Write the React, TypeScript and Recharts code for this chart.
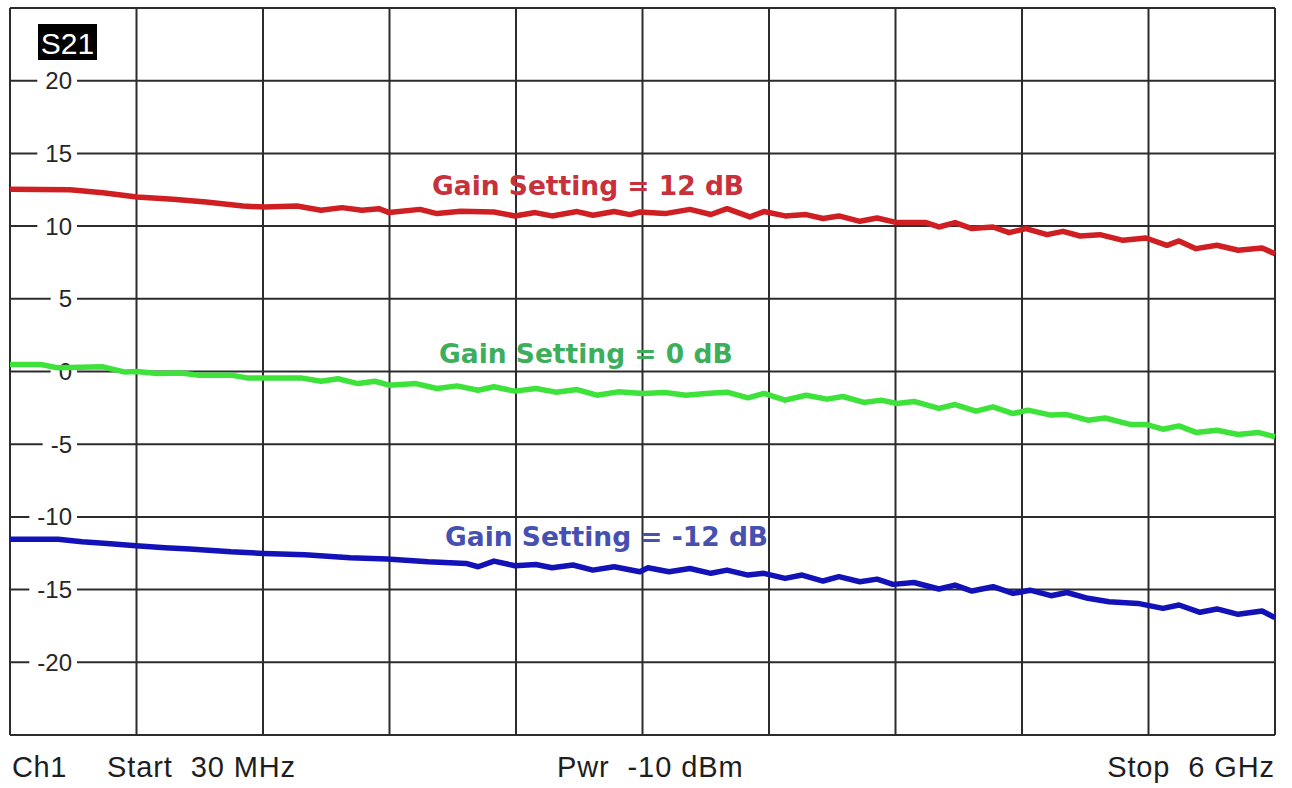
import React from "react";
import { LineChart, Line, XAxis, YAxis, CartesianGrid } from "recharts";

// Sweep span (MHz) and the ten grid divisions across it
const X_GRID_MHZ = [30, 627, 1224, 1821, 2418, 3015, 3612, 4209, 4806, 5403, 6000];
// S21 scale, 5 dB per division
const Y_GRID_DB = [-25, -20, -15, -10, -5, 0, 5, 10, 15, 20, 25];

// Trace: gain setting = 12 dB
const RED_FREQ = [30, 313, 469, 629, 799, 955, 1130, 1229, 1384, 1498, 1597, 1691, 1771, 1819, 1965, 2045, 2158, 2314, 2413, 2508, 2588, 2706, 2781, 2881, 2956, 3003, 3121, 3239, 3338, 3414, 3522, 3588, 3688, 3787, 3867, 3942, 4041, 4122, 4216, 4353, 4414, 4490, 4570, 4669, 4745, 4825, 4924, 5000, 5080, 5174, 5283, 5391, 5490, 5547, 5627, 5726, 5826, 5939, 6000];
const RED_DB = [12.53, 12.5, 12.3, 12.0, 11.84, 11.66, 11.38, 11.31, 11.38, 11.09, 11.27, 11.09, 11.2, 10.93, 11.15, 10.86, 11.02, 10.97, 10.7, 10.93, 10.7, 11.0, 10.75, 11.0, 10.79, 10.97, 10.86, 11.15, 10.8, 11.2, 10.63, 11.0, 10.7, 10.79, 10.52, 10.7, 10.33, 10.56, 10.24, 10.24, 9.94, 10.24, 9.83, 9.94, 9.55, 9.83, 9.41, 9.64, 9.32, 9.41, 9.02, 9.18, 8.68, 8.98, 8.45, 8.68, 8.34, 8.5, 8.1];

// Trace: gain setting = 0 dB
const GREEN_FREQ = [30, 176, 257, 469, 568, 629, 724, 837, 917, 1073, 1148, 1229, 1403, 1498, 1578, 1672, 1753, 1819, 1946, 2045, 2140, 2239, 2314, 2413, 2512, 2607, 2706, 2800, 2899, 3017, 3121, 3220, 3315, 3414, 3513, 3588, 3688, 3787, 3886, 3961, 4060, 4141, 4216, 4296, 4414, 4490, 4589, 4669, 4764, 4834, 4943, 5018, 5117, 5198, 5316, 5391, 5471, 5547, 5627, 5726, 5826, 5920, 6000];
const GREEN_DB = [0.48, 0.48, 0.25, 0.32, -0.03, 0.0, -0.14, -0.1, -0.25, -0.25, -0.44, -0.44, -0.44, -0.67, -0.5, -0.83, -0.67, -0.94, -0.83, -1.17, -0.99, -1.29, -1.05, -1.35, -1.17, -1.42, -1.24, -1.63, -1.4, -1.51, -1.44, -1.63, -1.51, -1.42, -1.81, -1.51, -1.97, -1.63, -1.9, -1.72, -2.13, -1.97, -2.2, -2.06, -2.54, -2.27, -2.73, -2.43, -2.89, -2.66, -3.0, -2.96, -3.35, -3.2, -3.64, -3.64, -3.97, -3.74, -4.19, -4.04, -4.33, -4.19, -4.49];

// Trace: gain setting = -12 dB
const BLUE_FREQ = [30, 257, 370, 488, 625, 762, 879, 1073, 1229, 1422, 1635, 1809, 2003, 2182, 2239, 2314, 2413, 2512, 2588, 2687, 2781, 2881, 3003, 3041, 3140, 3239, 3338, 3414, 3513, 3588, 3688, 3768, 3867, 3942, 4041, 4122, 4197, 4296, 4414, 4490, 4570, 4669, 4764, 4844, 4943, 5018, 5117, 5217, 5353, 5471, 5547, 5646, 5726, 5826, 5939, 6000];
const BLUE_DB = [-11.53, -11.53, -11.71, -11.83, -11.99, -12.12, -12.2, -12.4, -12.51, -12.6, -12.81, -12.9, -13.09, -13.2, -13.43, -13.04, -13.36, -13.27, -13.5, -13.31, -13.66, -13.43, -13.77, -13.5, -13.77, -13.55, -13.88, -13.66, -14.0, -13.88, -14.23, -14.0, -14.41, -14.11, -14.46, -14.28, -14.64, -14.51, -14.96, -14.69, -15.1, -14.8, -15.26, -15.04, -15.42, -15.2, -15.6, -15.83, -15.95, -16.29, -16.06, -16.56, -16.33, -16.7, -16.47, -16.93];

const TRACE_LABELS = ["Gain Setting = 12 dB", "Gain Setting = 0 dB", "Gain Setting = -12 dB"];
const FOOTER = ["Ch1", "Start  30 MHz", "Pwr  -10 dBm", "Stop  6 GHz"];

const toSeries = (freq: number[], db: number[]) => freq.map((f, i) => ({ f, v: db[i] }));
const redData = toSeries(RED_FREQ, RED_DB);
const greenData = toSeries(GREEN_FREQ, GREEN_DB);
const blueData = toSeries(BLUE_FREQ, BLUE_DB);

const W = 1292;
const H = 788;
const PLOT_LEFT = 10;
const PLOT_TOP = 8;
const PLOT_RIGHT = 1275;
const PLOT_BOTTOM = 735;
const AXIS_W = 1;
const SANS = "'Liberation Sans', Arial, sans-serif";
const GRID = "#2c2c2c";
const X_DOMAIN: [number, number] = [30, 6000];
const Y_DOMAIN: [number, number] = [-25, 25];

// keep the doubled gaps of the instrument footer visible in SVG text
const keepGaps = (s: string) => s.replace(/  /g, "\u00a0 ");

// frequency ticks only feed the vertical graticule lines
const NoTick = () => <g />;

// Scale numbers printed inside the left edge of the graticule, on a white patch
const YTick = (props: any) => {
  const { y, payload } = props;
  const v = payload.value as number;
  if (v <= -25 || v >= 25) return <g />;
  const label = String(v);
  const fs = 24;
  let w = 0;
  for (const ch of label) w += ch === "-" ? 0.333 * fs : 0.556 * fs;
  const right = PLOT_LEFT + 62;
  return (
    <g>
      <rect x={right - w - 8} y={y - 11} width={w + 13} height={22} fill="#ffffff" />
      <text
        x={right}
        y={y}
        textAnchor="end"
        dominantBaseline="central"
        fontFamily={SANS}
        fontSize={fs}
        fill="#262626"
      >
        {label}
      </text>
    </g>
  );
};

const layer: React.CSSProperties = { position: "absolute", left: 0, top: 0 };

export default function App() {
  return (
    <div style={{ position: "absolute", left: 0, top: 0, width: W, height: H, background: "#ffffff" }}>
      {/* graticule and scale numbers */}
      <div style={layer}>
        <LineChart
          width={W}
          height={H}
          margin={{ top: PLOT_TOP, left: PLOT_LEFT - AXIS_W, right: W - PLOT_RIGHT, bottom: H - PLOT_BOTTOM - AXIS_W }}
        >
          <CartesianGrid stroke={GRID} strokeWidth={2} />
          <XAxis
            type="number"
            dataKey="f"
            domain={X_DOMAIN}
            ticks={X_GRID_MHZ}
            interval={0}
            height={AXIS_W}
            tick={NoTick}
            tickLine={false}
            axisLine={false}
          />
          <YAxis
            type="number"
            domain={Y_DOMAIN}
            ticks={Y_GRID_DB}
            width={AXIS_W}
            tickLine={false}
            axisLine={false}
            tick={YTick}
            interval={0}
          />
          <Line data={redData} dataKey="v" stroke="none" dot={false} isAnimationActive={false} />
        </LineChart>
      </div>

      {/* measured traces, drawn over the graticule */}
      <div style={layer}>
        <LineChart
          width={W}
          height={H}
          margin={{ top: PLOT_TOP, left: PLOT_LEFT, right: W - PLOT_RIGHT, bottom: H - PLOT_BOTTOM }}
        >
          <XAxis type="number" dataKey="f" domain={X_DOMAIN} hide />
          <YAxis type="number" domain={Y_DOMAIN} hide />
          <Line data={redData} dataKey="v" type="linear" stroke="#cf1f22" strokeWidth={5.5} dot={false} isAnimationActive={false} strokeLinejoin="round" />
          <Line data={greenData} dataKey="v" type="linear" stroke="#3de23a" strokeWidth={5.5} dot={false} isAnimationActive={false} strokeLinejoin="round" />
          <Line data={blueData} dataKey="v" type="linear" stroke="#1212b8" strokeWidth={5.5} dot={false} isAnimationActive={false} strokeLinejoin="round" />
        </LineChart>
      </div>

      <svg width={W} height={H} style={{ ...layer, pointerEvents: "none" }}>
        <rect x={38} y={24} width={59} height={36} fill="#000000" />
        <text x={67.5} y={43} textAnchor="middle" dominantBaseline="central" fontFamily={SANS} fontSize={30} fill="#ffffff">
          S21
        </text>

        <g fontFamily="'DejaVu Sans', Verdana, sans-serif" fontWeight="bold" fontSize={26.5}>
          <text x={432} y={195} fill="#c8303b">{TRACE_LABELS[0]}</text>
          <text x={439} y={363} fill="#3dae5c">{TRACE_LABELS[1]}</text>
          <text x={445} y={546} fill="#4650b0">{TRACE_LABELS[2]}</text>
        </g>

        <g fontFamily={SANS} fontSize={29} fill="#1e1e1e">
          <text x={12} y={777} letterSpacing={0.6}>{keepGaps(FOOTER[0])}</text>
          <text x={107} y={777} letterSpacing={0.9}>{keepGaps(FOOTER[1])}</text>
          <text x={557} y={777} letterSpacing={0.9}>{keepGaps(FOOTER[2])}</text>
          <text x={1275} y={777} textAnchor="end" letterSpacing={0.9}>{keepGaps(FOOTER[3])}</text>
        </g>
      </svg>
    </div>
  );
}
